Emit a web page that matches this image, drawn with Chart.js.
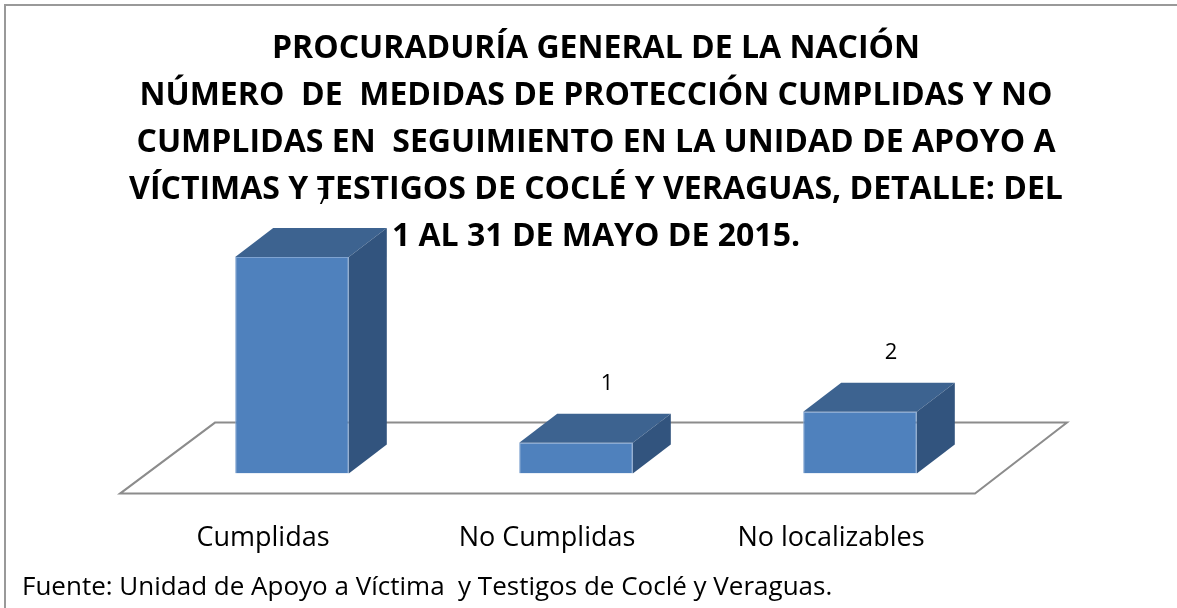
<!DOCTYPE html>
<html>
<head>
<meta charset="utf-8">
<script src="https://cdn.jsdelivr.net/npm/chart.js@4/dist/chart.umd.min.js"></script>
<style>
    body { margin: 0; background: #fff; }
    #wrap { width: 1177px; height: 608px; }
</style>
</head>
<body>
<div id="wrap"><canvas id="medidas" width="1177" height="608"></canvas></div>
<script>
const categories = ["Cumplidas", "No Cumplidas", "No localizables"]
const values = [7, 1, 2]
const titleLines = [
    "PROCURADURÍA GENERAL DE LA NACIÓN",
    "NÚMERO  DE  MEDIDAS DE PROTECCIÓN CUMPLIDAS Y NO",
    "CUMPLIDAS EN  SEGUIMIENTO EN LA UNIDAD DE APOYO A",
    "VÍCTIMAS Y TESTIGOS DE COCLÉ Y VERAGUAS, DETALLE: DEL",
    "1 AL 31 DE MAYO DE 2015."
]
const sourceNote = "Fuente: Unidad de Apoyo a Víctima  y Testigos de Coclé y Veraguas."

const depthX = 38
const depthY = 29

// floor, bar tops/sides and value labels
const bar3d = {
    id: "bar3d",
    beforeDatasetsDraw(chart) {
        const ctx = chart.ctx
        const area = chart.chartArea
        const y0 = chart.scales.y.getPixelForValue(0)
        ctx.save()
        ctx.strokeStyle = "#8c8c8c"
        ctx.lineWidth = 2
        ctx.beginPath()
        ctx.moveTo(area.left - 30, y0 + 20)
        ctx.lineTo(area.right - 27, y0 + 20)
        ctx.lineTo(area.right + 65, y0 - 51)
        ctx.lineTo(area.left + 65, y0 - 51)
        ctx.closePath()
        ctx.stroke()
        ctx.restore()
    },
    afterDatasetsDraw(chart) {
        const ctx = chart.ctx
        const meta = chart.getDatasetMeta(0)
        ctx.save()
        meta.data.forEach((bar, i) => {
            const l = bar.x - bar.width / 2
            const r = bar.x + bar.width / 2
            ctx.fillStyle = "#3d6390"
            ctx.beginPath()
            ctx.moveTo(l, bar.y)
            ctx.lineTo(r, bar.y)
            ctx.lineTo(r + depthX, bar.y - depthY)
            ctx.lineTo(l + depthX, bar.y - depthY)
            ctx.closePath()
            ctx.fill()
            ctx.fillStyle = "#32547e"
            ctx.beginPath()
            ctx.moveTo(r, bar.y)
            ctx.lineTo(r + depthX, bar.y - depthY)
            ctx.lineTo(r + depthX, bar.base - depthY)
            ctx.lineTo(r, bar.base)
            ctx.closePath()
            ctx.fill()

            ctx.fillStyle = "#000"
            ctx.font = "22px 'Open Sans'"
            ctx.textAlign = "center"
            ctx.textBaseline = "middle"
            ctx.fillText(values[i], bar.x + depthX / 2 + 12, bar.y - depthY - 30)
        })
        ctx.restore()
    },
    afterDraw(chart) {
        const ctx = chart.ctx
        ctx.save()
        ctx.strokeStyle = "#999"
        ctx.lineWidth = 2
        ctx.beginPath()
        ctx.moveTo(5, 608)
        ctx.lineTo(5, 5)
        ctx.lineTo(1177, 5)
        ctx.stroke()

        ctx.fillStyle = "#000"
        ctx.textAlign = "center"
        ctx.textBaseline = "middle"
        ctx.font = "bold 32px 'Open Sans'"
        titleLines.forEach((line, i) => {
            ctx.fillText(line, 596, 49 + 47 * i)
        })

        ctx.textAlign = "left"
        ctx.font = "26px 'Open Sans'"
        ctx.fillText(sourceNote, 22, 588)
        ctx.restore()
    }
}

const ctx = document.getElementById("medidas").getContext("2d")

const config = {
    type: "bar",
    data: {
        labels: categories,
        datasets: [{
            data: values,
            backgroundColor: "#4f81bd",
            borderColor: "#7fa3d1",
            borderWidth: 1,
            barPercentage: 0.4,
            categoryPercentage: 1
        }]
    },
    options: {
        responsive: false,
        animation: false,
        layout: { padding: { left: 150, right: 175, top: 257, bottom: 12 } },
        scales: {
            x: {
                grid: { display: false },
                border: { display: false },
                ticks: {
                    color: "#000",
                    font: { family: "'Open Sans'", size: 27 },
                    padding: 41,
                    labelOffset: -29,
                    maxRotation: 0
                }
            },
            y: { display: false, min: 0, max: 7 }
        },
        plugins: {
            legend: { display: false },
            tooltip: { enabled: false },
            title: { display: false }
        }
    },
    plugins: [bar3d]
}

const medidasChart = new Chart(ctx, config)
</script>
</body>
</html>
